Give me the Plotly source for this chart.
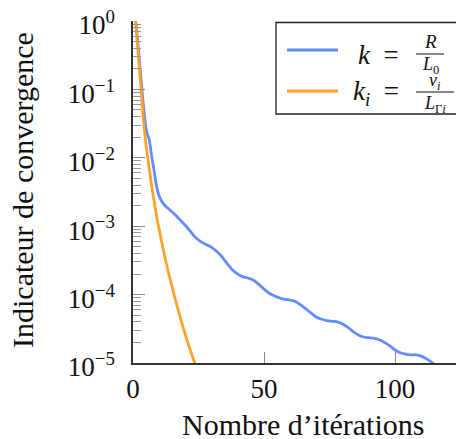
import plotly.graph_objects as go

# ---- data ----
iter_k = [1, 2, 3, 4, 5, 5.5, 6, 6.5, 7, 8, 9, 10, 11, 12, 14, 16, 18, 20, 22, 24,
          26, 28, 30, 32, 34, 36, 38, 40, 42, 44, 46, 48, 50, 52, 54, 56, 58, 60,
          62, 64, 66, 68, 70, 72, 74, 76, 78, 80, 82, 84, 86, 88, 90, 92, 94, 96,
          98, 100, 102, 104, 106, 108, 110, 112, 114, 115]
log_k = [0, -0.38, -0.82, -1.25, -1.57, -1.66, -1.71, -1.80, -1.95, -2.18, -2.42,
         -2.56, -2.64, -2.69, -2.76, -2.83, -2.91, -2.99, -3.08, -3.17,
         -3.23, -3.27, -3.31, -3.37, -3.45, -3.55, -3.64, -3.70, -3.74, -3.76,
         -3.79, -3.85, -3.92, -3.98, -4.02, -4.05, -4.07, -4.08, -4.10, -4.15,
         -4.21, -4.27, -4.33, -4.36, -4.38, -4.39, -4.40, -4.43, -4.48, -4.54,
         -4.59, -4.62, -4.63, -4.64, -4.66, -4.70, -4.75, -4.81, -4.85, -4.87,
         -4.88, -4.88, -4.90, -4.94, -4.99, -5.02]

iter_ki = list(range(1, 25))
log_ki = [0, -0.50, -0.95, -1.45, -1.82, -2.10, -2.38, -2.62, -2.85, -3.05,
          -3.24, -3.42, -3.59, -3.75, -3.90, -4.05, -4.19, -4.33, -4.46, -4.59,
          -4.71, -4.83, -4.94, -5.05]

y_tick_exponents = [0, -1, -2, -3, -4, -5]
x_tick_values = [0, 50, 100]

k_vals = [10 ** v for v in log_k]
ki_vals = [10 ** v for v in log_ki]

BLUE = "#628CFF"
ORANGE = "#FFA22C"
FONT = "Liberation Serif"

# page has an 8px body margin: figure is sized so that it ends at the window edge
OFF = 8
PAGE_W, PAGE_H = 464, 439
L, W, T, H = 133, 331, 21, 342   # plot area in page pixels

fig = go.Figure()
fig.add_trace(go.Scatter(x=iter_k, y=k_vals, mode="lines",
                         line=dict(color=BLUE, width=2.8, shape="spline", smoothing=0.6),
                         showlegend=False))
fig.add_trace(go.Scatter(x=iter_ki, y=ki_vals, mode="lines",
                         line=dict(color=ORANGE, width=2.8, shape="spline", smoothing=0.6),
                         showlegend=False))

minor_vals = [m * 10 ** e for e in range(-5, 0) for m in range(2, 10)]

fig.update_layout(
    width=PAGE_W - OFF, height=PAGE_H - OFF,
    margin=dict(l=L - OFF, r=PAGE_W - OFF - (L - OFF) - W, t=T - OFF,
                b=PAGE_H - OFF - (T - OFF) - H, pad=0),
    paper_bgcolor="white", plot_bgcolor="white",
    font=dict(family=FONT, size=27, color="#111"),
    showlegend=False,
)
fig.update_xaxes(
    range=[0, 126.3], showgrid=False, zeroline=False, automargin=False,
    showline=True, linecolor="#333", linewidth=1.5, mirror=False,
    ticks="inside", ticklen=11, tickcolor="#888", tickwidth=1,
    tickmode="array", tickvals=x_tick_values,
    ticktext=[str(v) for v in x_tick_values],
    ticklabelstandoff=1, ticklabeloverflow="allow",
)
fig.update_yaxes(
    type="log", range=[-5, 0], showgrid=False, zeroline=False, automargin=False,
    showline=True, linecolor="#333", linewidth=1.5, mirror=False,
    ticks="inside", ticklen=12, tickcolor="#888", tickwidth=1,
    tickmode="array", tickvals=[10 ** e for e in y_tick_exponents],
    ticktext=["10<sup>%s</sup>" % (str(e).replace("-", "−")) for e in y_tick_exponents],
    ticklabelstandoff=11, ticklabeloverflow="allow", ticklabelshift=4,
    minor=dict(ticks="inside", ticklen=8, tickcolor="#999", tickwidth=1,
               tickmode="array", tickvals=minor_vals),
)

def px(x):
    return (x - L) / W
def py(y):
    return (T + H - y) / H

def ann(text, x, y, size, xanchor="center", yanchor="middle", angle=0):
    fig.add_annotation(text=text, xref="paper", yref="paper", x=px(x), y=py(y),
                       xanchor=xanchor, yanchor=yanchor, showarrow=False, textangle=angle,
                       font=dict(family=FONT, size=size, color="#111"))

# axis titles
ann("Nombre d’itérations", 303, 424, 30)
ann("Indicateur de convergence", 23, 190, 30, angle=-90)

# ---- hand-drawn legend with fractions ----
fig.add_shape(type="rect", xref="paper", yref="paper",
              x0=px(276), x1=px(470), y0=py(114), y1=py(22.5),
              line=dict(color="#222", width=1.3), fillcolor="white", layer="above")
fig.add_shape(type="line", xref="paper", yref="paper",
              x0=px(287), x1=px(338), y0=py(50), y1=py(50),
              line=dict(color=BLUE, width=2.8))
fig.add_shape(type="line", xref="paper", yref="paper",
              x0=px(287), x1=px(338), y0=py(91), y1=py(91),
              line=dict(color=ORANGE, width=2.8))
# fraction bars
fig.add_shape(type="line", xref="paper", yref="paper",
              x0=px(416), x1=px(444), y0=py(54), y1=py(54),
              line=dict(color="#111", width=1))
fig.add_shape(type="line", xref="paper", yref="paper",
              x0=px(416), x1=px(454), y0=py(92), y1=py(92),
              line=dict(color="#111", width=1))

ann("<i>k</i>\u00a0 =", 401, 55, 27, "right")
ann("<i>R</i>", 430, 42, 19)
ann("<i>L</i><sub>0</sub>", 430, 65, 18)
ann("<i>k<sub>i</sub></i>\u00a0 =", 401, 93, 27, "right")
ann("<i>ν<sub>i</sub></i>", 435, 81, 18)
ann("<i>L</i><sub>Γ<i>i</i></sub>", 435, 104, 18)

fig.write_html("out.html")
